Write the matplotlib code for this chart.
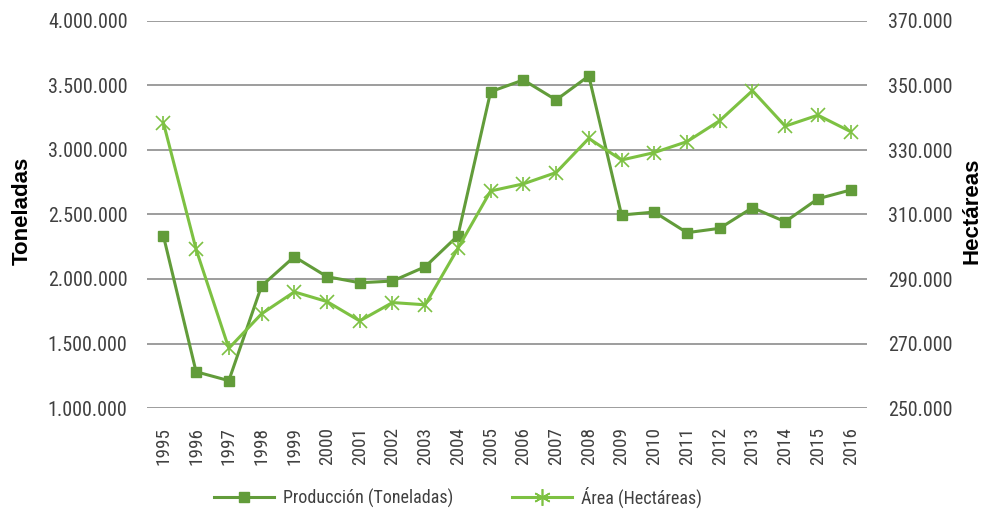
import matplotlib
matplotlib.use("Agg")
import matplotlib.pyplot as plt
from matplotlib import font_manager as fm
from matplotlib.ticker import FuncFormatter
from matplotlib.lines import Line2D

years = [str(y) for y in range(1995, 2017)]
produccion = [2336000, 1281000, 1212000, 1946000, 2173000, 2018000, 1971000, 1984000,
              2095000, 2336000, 3452000, 3543000, 3388000, 3574000, 2496000, 2519000,
              2359000, 2393000, 2553000, 2444000, 2622000, 2690000]
area = [338500, 299200, 268500, 279200, 286000, 283000, 277000, 282700, 282000, 299500,
        317300, 319500, 323000, 333600, 326900, 329200, 332600, 339100, 348400, 337400,
        340800, 335700]

names = {f.name for f in fm.fontManager.ttflist}
fam = "Liberation Sans"
for cand in ["Liberation Sans Narrow", "Arial Narrow", "Roboto Condensed"]:
    if cand in names:
        fam = cand
        break
narrow = fam != "Liberation Sans"
plt.rcParams['font.family'] = [fam, 'DejaVu Sans']
k = 1.15 if narrow else 1.0

c_prod = "#629C3A"
c_area = "#7DC142"
grid_c = "#8C8C8C"
txt_c = "#404040"

def fmt(v, pos):
    return f"{int(round(v)):,}".replace(",", ".")

fig = plt.figure(figsize=(9.84, 5.09), dpi=100)
ax = fig.add_axes([147/984, 1-408/509, 720/984, 387/509])
ax2 = ax.twinx()

x = list(range(len(years)))
ax.plot(x, produccion, color=c_prod, lw=2.2, marker='s', ms=7.5, zorder=3)
ax2.plot(x, area, color=c_area, lw=2.2, marker='x', ms=10.5, mew=1.2, zorder=3)
ax2.plot(x, area, color=c_area, lw=0, marker='|', ms=10.5, mew=1.2, zorder=3)

ax.set_xlim(-0.5, len(years)-0.5)
ax.set_ylim(1000000, 4000000)
ax2.set_ylim(250000, 370000)
ax.set_yticks(range(1000000, 4000001, 500000))
ax2.set_yticks(range(250000, 370001, 20000))
ax.yaxis.set_major_formatter(FuncFormatter(fmt))
ax2.yaxis.set_major_formatter(FuncFormatter(fmt))
ax.set_xticks(x)
ax.set_xticklabels(years, rotation=90, fontsize=12*k, color=txt_c)

for a in (ax, ax2):
    for s in a.spines.values():
        s.set_visible(False)
ax.grid(axis='y', color=grid_c, lw=1.2)
ax.set_axisbelow(True)
ax.tick_params(axis='y', length=0, labelsize=12.5*k, labelcolor=txt_c, pad=14)
ax2.tick_params(axis='y', length=0, labelsize=12.5*k, labelcolor=txt_c, pad=15)
ax.tick_params(axis='x', length=0, pad=14)

lab_font = dict(fontsize=16, fontweight='bold', color='black',
                family=['Liberation Sans', 'DejaVu Sans'])
ax.set_ylabel("Toneladas", **lab_font)
ax2.set_ylabel("Hectáreas", **lab_font)
ax.yaxis.set_label_coords((33-147)/720, (408-211)/387)
ax2.yaxis.set_label_coords((961-147)/720, (408-211)/387)

lf = 13.0 if narrow else 12.0
fpx = lf * 100 / 72
h1 = Line2D([], [], color=c_prod, lw=2.2, marker='s', ms=7.5)
h2 = Line2D([], [], color=c_area, lw=2.2, marker=(6, 2, 0), ms=12, mew=1.2)
fig.legend([h1, h2], ["Producción (Toneladas)", "Área (Hectáreas)"], loc='center',
           bbox_to_anchor=(458/984, 1-497/509), ncol=2, frameon=False, fontsize=lf,
           handlelength=60/fpx, handletextpad=9/fpx, columnspacing=58/fpx, labelcolor=txt_c)

fig.savefig("out.png", dpi=100)
